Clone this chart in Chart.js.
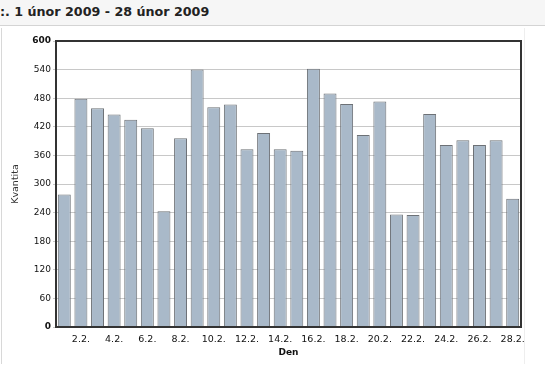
<!DOCTYPE html>
<html>
<head>
<meta charset="utf-8">
<script src="https://cdn.jsdelivr.net/npm/chart.js@4"></script>
<style>
  body { margin: 0; width: 545px; height: 366px; overflow: hidden; background: #fff; position: relative; font-family: "DejaVu Sans", Verdana, sans-serif; }
  #head { position: absolute; left: 0; top: 0; width: 545px; height: 25px; background: #f6f6f6; border-bottom: 1px solid #d4d4d4; }
  #head span { position: absolute; left: 0; top: 4px; font-weight: bold; font-size: 12.7px; color: #222; white-space: nowrap; }
  #frame { position: absolute; left: 1px; top: 28px; width: 522px; height: 336px; border-left: 1px solid #d8d8d8; border-right: 1px solid #eeeeee; }
  #wrap { position: absolute; left: 0; top: 26px; width: 545px; height: 340px; }
</style>
</head>
<body>
<div id="head"><span>:. 1 únor 2009 - 28 únor 2009</span></div>
<div id="frame"></div>
<div id="wrap"><canvas id="chart"></canvas></div>
<script>
// den v mesici (unor 2009)
const days = ["1.2.", "2.2.", "3.2.", "4.2.", "5.2.", "6.2.", "7.2.", "8.2.", "9.2.", "10.2.",
  "11.2.", "12.2.", "13.2.", "14.2.", "15.2.", "16.2.", "17.2.", "18.2.", "19.2.", "20.2.",
  "21.2.", "22.2.", "23.2.", "24.2.", "25.2.", "26.2.", "27.2.", "28.2."];

// kvantita za den
const quantity = [278, 479, 459, 446, 435, 417, 243, 396, 540, 461,
  467, 373, 407, 373, 370, 542, 490, 468, 403, 473,
  236, 235, 447, 382, 392, 382, 392, 269];

const yMax = 600;
const yStep = 60;

// ramecek kolem grafu
const frameBox = {
  id: "frameBox",
  afterDatasetsDraw(chart) {
    const a = chart.chartArea;
    const c = chart.ctx;
    c.save();
    c.strokeStyle = "#333";
    c.lineWidth = 2;
    c.strokeRect(a.left, a.top, a.right - a.left, a.bottom - a.top);
    c.restore();
  }
};

new Chart(document.getElementById("chart"), {
  type: "bar",
  data: {
    labels: days,
    datasets: [{
      label: "Kvantita",
      data: quantity,
      backgroundColor: "#a9b9c9",
      borderColor: "#6d7176",
      borderWidth: 1,
      borderSkipped: "bottom",
      categoryPercentage: 1,
      barPercentage: 0.78
    }]
  },
  options: {
    responsive: true,
    maintainAspectRatio: false,
    animation: false,
    layout: { padding: { top: 15, right: 24, left: 0, bottom: 0 } },
    plugins: { legend: { display: false }, tooltip: { enabled: false } },
    scales: {
      x: {
        afterFit: (s) => { s.height = 39; },
        grid: { display: false, drawTicks: false },
        border: { display: true, color: "#333", width: 2 },
        ticks: {
          autoSkip: false,
          maxRotation: 0,
          padding: 7,
          color: "#111",
          font: { family: "DejaVu Sans", size: 9.5 },
          callback: function (v, i) { return i % 2 === 1 ? days[i] : ""; }
        },
        title: {
          display: true,
          text: "Den",
          color: "#111",
          font: { family: "DejaVu Sans", size: 9, weight: "bold" },
          padding: { top: 0, bottom: 8 }
        }
      },
      y: {
        min: 0,
        max: yMax,
        afterFit: (s) => { s.width = 56; },
        grid: { color: "#c8c8c8", lineWidth: 1, tickLength: 3 },
        border: { display: true, color: "#333", width: 2 },
        ticks: {
          stepSize: yStep,
          padding: 2,
          color: "#111",
          font: (ctx) => ({
            family: "DejaVu Sans",
            size: 9,
            weight: (ctx.tick && (ctx.tick.value === 0 || ctx.tick.value === yMax)) ? "bold" : "normal"
          })
        },
        title: {
          display: true,
          text: "Kvantita",
          color: "#333",
          font: { family: "DejaVu Sans", size: 9.5 },
          padding: { top: 10, bottom: 0 }
        }
      }
    }
  },
  plugins: [frameBox]
});
</script>
</body>
</html>
